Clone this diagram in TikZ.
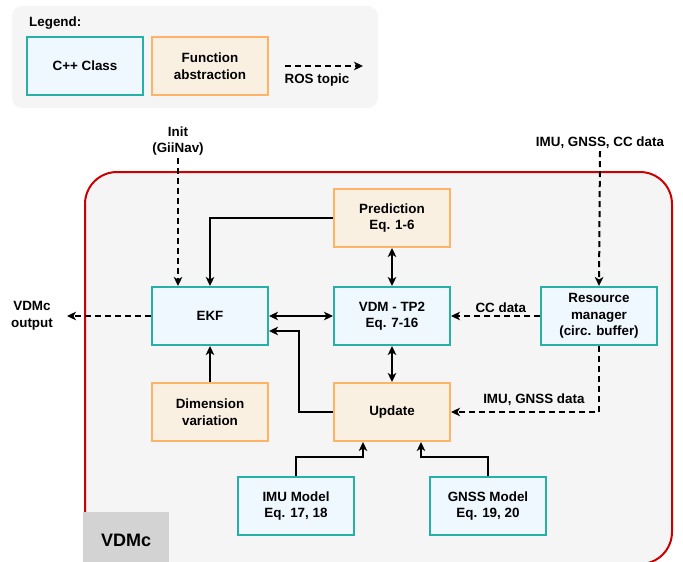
\documentclass[tikz,border=0pt]{standalone}
\usepackage{fontspec}
\setmainfont{Liberation Sans}
\usepackage{xcolor}
\usepackage{tikz}
\definecolor{classteal}{RGB}{38, 176, 168}
\definecolor{classfill}{RGB}{239, 247, 255}
\definecolor{funcorange}{RGB}{255, 179, 102}
\definecolor{funcfill}{RGB}{250, 240, 225}
\definecolor{panelgray}{RGB}{245, 245, 245}
\definecolor{vdmred}{RGB}{204, 0, 0}
\definecolor{tabgray}{RGB}{211, 211, 211}
\usetikzlibrary{arrows.meta, positioning}

\begin{document}
\begin{tikzpicture}[
    x=1pt, y=1pt,
    node distance=36pt,
    >={Stealth[length=9pt, width=8.5pt, inset=2.5pt]},
    lbl/.style={font=\fontsize{13.4}{16.5}\selectfont\bfseries, align=center, inner sep=2pt},
    classbox/.style={rectangle, draw=classteal, fill=classfill, line width=2pt,
                minimum width=116pt, minimum height=58pt, lbl},
    funcbox/.style={rectangle, draw=funcorange, fill=funcfill, line width=2pt,
                minimum width=116pt, minimum height=58pt, lbl},
    arrow/.style={->, line width=2pt, black},
    twoway/.style={<->, line width=2pt, black},
    topic/.style={->, line width=2pt, black, dash pattern=on 6pt off 4pt}
]
    \useasboundingbox (0,0) rectangle (683,-562);

    % legend
    \fill[panelgray, rounded corners=10pt] (12,-6) rectangle (378,-108);
    \node[lbl, anchor=west] (legend) at (27,-23) {Legend:};
    \node[classbox] (lgclass) at (85,-66) {C++ Class};
    \node[funcbox, right=7pt of lgclass] (lgfunc) {Function\\abstraction};
    \coordinate (lgstart) at (285,-66);
    \coordinate (lgend) at (363,-66);
    \draw[topic] (lgstart) -- (lgend);
    \node[lbl] (lgtopic) at (317,-80) {ROS topic};

    % VDMc container
    \draw[vdmred, fill=panelgray, line width=2pt, rounded corners=32pt] (85,-172) rectangle (672,-564);
    \node[anchor=north west, fill=tabgray, minimum width=86pt, minimum height=56pt,
          font=\fontsize{18}{20}\selectfont\bfseries] (vdmc) at (83,-512) {VDMc};

    \node[classbox] (ekf) at (210,-316) {EKF};
    \node[classbox, right=64pt of ekf] (vdm) {VDM - TP2\\Eq. 7-16};
    \node[funcbox, above=38pt of vdm] (pred) {Prediction\\Eq. 1-6};
    \node[funcbox, below=36pt of vdm] (upd) {Update};
    \node[classbox, right=89pt of vdm] (res) {Resource\\manager\\(circ. buffer)};
    \node[funcbox, below=36pt of ekf] (dim) {Dimension\\variation};
    \node[classbox, below=34pt of upd, xshift=-96pt] (imu) {IMU Model\\Eq. 17, 18};
    \node[classbox, below=34pt of upd, xshift=96pt] (gnss) {GNSS Model\\Eq. 19, 20};

    % outside inputs / outputs
    \node[lbl] (init) at (178,-141) {Init\\(GiiNav)};
    \node[lbl] (sensors) at (600,-143) {IMU, GNSS, CC data};
    \coordinate (outend) at (67,-316);
    \node[lbl, left=12pt of outend] (out) {VDMc\\output};

    \draw[arrow] (pred.west) -| (ekf.north);
    \draw[twoway] (pred) -- (vdm);
    \draw[twoway] (ekf) -- (vdm);
    \draw[twoway] (vdm) -- (upd);
    \draw[arrow] (dim) -- (ekf);
    \draw[arrow] (upd.west) -- ++(-34pt,0) |- ([yshift=-15pt]ekf.east);
    \draw[arrow] (imu.north) -- ++(0,19pt) -| ([xshift=-29pt]upd.south);
    \draw[arrow] (gnss.north) -- ++(0,19pt) -| ([xshift=29pt]upd.south);

    \draw[topic] (init.south) -- (init.south |- ekf.north);
    \draw[topic] (sensors.south) -- (res.north);
    \draw[topic] (res.west) -- node[lbl, above, pos=0.44] {CC data} (vdm.east);
    \draw[topic] (res.south) |- node[lbl, above=3pt, pos=0.72] {IMU, GNSS data} (upd.east);
    \draw[topic] (ekf.west) -- (outend);
\end{tikzpicture}
\end{document}
